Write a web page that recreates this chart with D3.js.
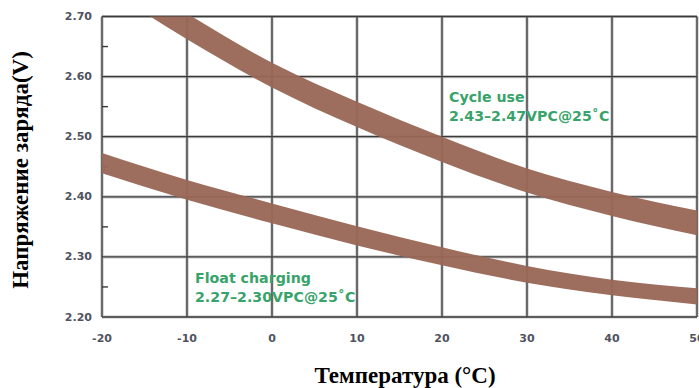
<!DOCTYPE html>
<html>
<head>
<meta charset="utf-8">
<script src="https://cdn.jsdelivr.net/npm/d3@7"></script>
<style>
  html, body { margin: 0; padding: 0; background: #fff; }
  svg { display: block; }
</style>
</head>
<body>
<svg id="chart" width="699" height="388"></svg>
<script>
// Charging voltage per cell vs. temperature
const temps = [-20, -10, 0, 10, 20, 30, 40, 50];
const cycleUpper = [2.795, 2.705, 2.623, 2.558, 2.500, 2.447, 2.408, 2.377];
const cycleLower = [2.752, 2.662, 2.582, 2.516, 2.458, 2.407, 2.368, 2.336];
const floatUpper = [2.473, 2.428, 2.389, 2.351, 2.316, 2.285, 2.262, 2.248];
const floatLower = [2.439, 2.395, 2.356, 2.319, 2.286, 2.257, 2.236, 2.221];

const xTicks = [-20, -10, 0, 10, 20, 30, 40, 50];
const yTicks = [2.20, 2.30, 2.40, 2.50, 2.60, 2.70];
const yMinorTicks = [2.25, 2.35, 2.45, 2.55, 2.65];

const cycleLabel = ["Cycle use", "2.43–2.47VPC@25˚C"];
const floatLabel = ["Float charging", "2.27–2.30VPC@25˚C"];
const xTitle = "Температура (°C)";
const yTitle = "Напряжение заряда(V)";

const svg = d3.select("#chart");
const plot = { left: 102, right: 697, top: 16.5, bottom: 317 };

const x = d3.scaleLinear().domain([-20, 50]).range([plot.left, plot.right]);
const y = d3.scaleLinear().domain([2.20, 2.70]).range([plot.bottom, plot.top]);

svg.append("defs").append("clipPath").attr("id", "plot-clip")
  .append("rect")
  .attr("x", plot.left).attr("y", plot.top)
  .attr("width", plot.right - plot.left).attr("height", plot.bottom - plot.top);

// Grid: soft halo under a dark core line
const grid = svg.append("g");
function gridLines(cls, stroke, width) {
  const g = grid.append("g").attr("class", cls)
    .attr("stroke", stroke).attr("stroke-width", width).attr("fill", "none");
  g.selectAll("line.v").data(xTicks).join("line").attr("class", "v")
    .attr("x1", d => x(d)).attr("x2", d => x(d))
    .attr("y1", plot.top).attr("y2", plot.bottom);
  g.selectAll("line.h").data(yTicks).join("line").attr("class", "h")
    .attr("x1", plot.left).attr("x2", plot.right)
    .attr("y1", d => y(d)).attr("y2", d => y(d));
}
gridLines("halo", "#c4c4c4", 3.2);
gridLines("core", "#3a3a3a", 1.3);

// Minor ticks on the voltage axis
grid.append("g").selectAll("line").data(yMinorTicks).join("line")
  .attr("x1", plot.left).attr("x2", plot.left + 6)
  .attr("y1", d => y(d)).attr("y2", d => y(d))
  .attr("stroke", "#3a3a3a").attr("stroke-width", 1.4);

// Voltage bands
const band = (upper, lower) => d3.area()
  .x((d, i) => x(temps[i]))
  .y0((d, i) => y(lower[i]))
  .y1((d, i) => y(upper[i]))
  .curve(d3.curveMonotoneX)(temps);

const bands = svg.append("g").attr("clip-path", "url(#plot-clip)");
bands.append("path").attr("d", band(cycleUpper, cycleLower))
  .attr("fill", "#996856").attr("fill-opacity", 0.96);
bands.append("path").attr("d", band(floatUpper, floatLower))
  .attr("fill", "#996856").attr("fill-opacity", 0.96);

// Tick labels
const tickFont = "'DejaVu Sans', sans-serif";
svg.append("g").selectAll("text").data(yTicks).join("text")
  .attr("x", 92).attr("y", d => y(d))
  .attr("text-anchor", "end").attr("dominant-baseline", "central")
  .attr("font-family", tickFont).attr("font-weight", "bold").attr("font-size", 11)
  .attr("fill", "#4f5360")
  .text(d => d.toFixed(2));

svg.append("g").selectAll("text").data(xTicks).join("text")
  .attr("x", d => x(d)).attr("y", 342)
  .attr("text-anchor", "middle")
  .attr("font-family", tickFont).attr("font-weight", "bold").attr("font-size", 11)
  .attr("fill", "#4f5360")
  .text(d => d);

// Band annotations
function annotate(lines, px, py) {
  const t = svg.append("text")
    .attr("font-family", tickFont).attr("font-weight", "bold").attr("font-size", 14.2)
    .attr("fill", "#38a36b");
  lines.forEach((s, i) => {
    t.append("tspan").attr("x", px).attr("y", py + i * 18.7).text(s);
  });
}
annotate(cycleLabel, 449, 102);
annotate(floatLabel, 195, 283);

// Axis titles
svg.append("text")
  .attr("x", 405).attr("y", 383)
  .attr("text-anchor", "middle")
  .attr("font-family", "'Liberation Serif', 'Times New Roman', serif")
  .attr("font-weight", "bold").attr("font-size", 23)
  .attr("fill", "#000")
  .text(xTitle);

svg.append("text")
  .attr("transform", "translate(28,170) rotate(-90)")
  .attr("text-anchor", "middle")
  .attr("font-family", "'Liberation Serif', 'Times New Roman', serif")
  .attr("font-weight", "bold").attr("font-size", 23)
  .attr("fill", "#000")
  .text(yTitle);
</script>
</body>
</html>
